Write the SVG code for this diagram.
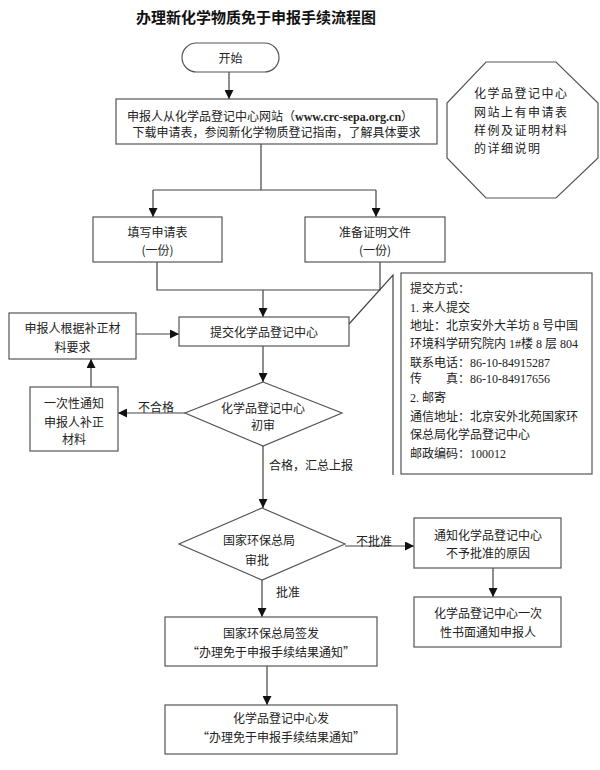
<svg xmlns="http://www.w3.org/2000/svg" width="600" height="770" viewBox="0 0 600 770">
<defs>
<marker id="ah" viewBox="0 0 10 10" refX="10" refY="5" markerUnits="userSpaceOnUse" markerWidth="10" markerHeight="9" orient="auto">
<path d="M0,0 L10,5 L0,10 z" fill="#111"/>
</marker>
<style>
.box{fill:#fff;stroke:#555;stroke-width:1.2}
.ln{fill:none;stroke:#444;stroke-width:1.2}
.ar{fill:none;stroke:#444;stroke-width:1.2;marker-end:url(#ah)}
text{font-family:"Noto Sans CJK SC","Liberation Sans",sans-serif;font-size:12px;fill:#222}
.c{text-anchor:middle}
.t{font-size:15px;font-weight:bold;fill:#111}
.s{font-family:"Liberation Serif","Noto Sans CJK SC",serif}
.oct{letter-spacing:1.5px}
</style>
</defs>
<rect width="600" height="770" fill="#fff"/>
<text class="t c" x="256" y="23">办理新化学物质免于申报手续流程图</text>

<g id="connectors">
<path class="ar" d="M229,72 V99"/>
<path class="ln" d="M261,144 V190 M153,190 H376"/>
<path class="ar" d="M153,190 V217"/>
<path class="ar" d="M376,190 V217"/>
<path class="ln" d="M157,262 V290 H380 V262"/>
<path class="ar" d="M263,290 V317"/>
<path class="ar" d="M136,334 H179"/>
<path class="ar" d="M263,346 V382"/>
<path class="ar" d="M185,413 H118"/>
<path class="ar" d="M91,387 V359"/>
<path class="ar" d="M263,446 V508"/>
<path class="ar" d="M345,546 H414"/>
<path class="ar" d="M493,568 V597"/>
<path class="ar" d="M262,580 V617"/>
<path class="ar" d="M267,666 V705"/>
<path class="ln" d="M349,324 L393,275 V475"/>
</g>

<g id="start">
<rect class="box" x="182" y="43" width="97" height="29" rx="14.5"/>
<text class="c" x="230.5" y="62.5">开始</text>
</g>

<g id="download">
<rect class="box" x="116" y="99" width="321" height="45"/>
<text x="127" y="120.5">申报人从化学品登记中心网站（<tspan class="s" font-weight="bold">www.crc-sepa.org.cn</tspan>）</text>
<text class="c" x="276.5" y="136.5">下载申请表，参阅新化学物质登记指南，了解具体要求</text>
</g>

<g id="note-octagon">
<polygon class="box" points="486,62 556,62 598,103 598,158 556,198 486,198 447,158 447,103"/>
<text class="oct" x="474" y="97.5">化学品登记中心</text>
<text class="oct" x="474" y="116.5">网站上有申请表</text>
<text class="oct" x="474" y="134.5">样例及证明材料</text>
<text class="oct" x="474" y="152.5">的详细说明</text>
</g>

<g id="fill-form">
<rect class="box" x="93" y="217" width="129" height="45"/>
<text class="c" x="157.5" y="236.5">填写申请表</text>
<text class="c" x="157.5" y="254.5">(一份)</text>
</g>

<g id="prepare-docs">
<rect class="box" x="305" y="217" width="140" height="45"/>
<text class="c" x="375" y="236.5">准备证明文件</text>
<text class="c" x="375" y="254.5">(一份)</text>
</g>

<g id="submit">
<rect class="box" x="179" y="317" width="170" height="29"/>
<text class="c" x="264" y="336.5">提交化学品登记中心</text>
</g>

<g id="supplement">
<rect class="box" x="9" y="313" width="127" height="46"/>
<text class="c" x="72.5" y="332.5">申报人根据补正材</text>
<text class="c" x="72.5" y="351.5">料要求</text>
</g>

<g id="submit-info">
<rect class="box" x="401" y="273" width="191" height="201"/>
<text x="410" y="292.5">提交方式：</text>
<text x="410" y="311.5"><tspan class="s">1. </tspan>来人提交</text>
<text x="410" y="329.5">地址：北京安外大羊坊<tspan class="s"> 8 </tspan>号中国</text>
<text x="410" y="347.5">环境科学研究院内<tspan class="s"> 1#</tspan>楼<tspan class="s"> 8 </tspan>层<tspan class="s"> 804</tspan></text>
<text x="410" y="366.5">联系电话：<tspan class="s">86-10-84915287</tspan></text>
<text x="410" y="382.5">传　　真：<tspan class="s">86-10-84917656</tspan></text>
<text x="410" y="401.5"><tspan class="s">2. </tspan>邮寄</text>
<text x="410" y="420.5">通信地址：北京安外北苑国家环</text>
<text x="410" y="438.5">保总局化学品登记中心</text>
<text x="410" y="457.5">邮政编码：<tspan class="s">100012</tspan></text>
</g>

<g id="review">
<polygon class="box" points="263,382 342,413 263,446 185,413"/>
<text class="c" x="263" y="412.5">化学品登记中心</text>
<text class="c" x="263" y="429.5">初审</text>
</g>

<g id="notify-supplement">
<rect class="box" x="30" y="387" width="88" height="64"/>
<text class="c" x="74" y="407.5">一次性通知</text>
<text class="c" x="74" y="426.5">申报人补正</text>
<text class="c" x="74" y="443.5">材料</text>
</g>

<text x="138" y="411.5">不合格</text>
<text x="269" y="469.5">合格，汇总上报</text>

<g id="approve">
<polygon class="box" points="262,508 345,544 262,580 179,544"/>
<text class="c" x="259" y="544.5">国家环保总局</text>
<text class="c" x="257" y="564.5">审批</text>
</g>

<text x="356" y="546">不批准</text>
<text x="276" y="596.5">批准</text>

<g id="reject-reason">
<rect class="box" x="414" y="518" width="147" height="50"/>
<text class="c" x="488" y="539.5">通知化学品登记中心</text>
<text class="c" x="488" y="557.5">不予批准的原因</text>
</g>

<g id="reject-notify">
<rect class="box" x="414" y="597" width="147" height="50"/>
<text class="c" x="488" y="617.5">化学品登记中心一次</text>
<text class="c" x="488" y="636.5">性书面通知申报人</text>
</g>

<g id="issue">
<rect class="box" x="165" y="617" width="212" height="49"/>
<text class="c" x="271" y="637.5">国家环保总局签发</text>
<text class="c" x="271" y="656.5">“办理免于申报手续结果通知”</text>
</g>

<g id="send">
<rect class="box" x="165" y="705" width="232" height="49"/>
<text class="c" x="281" y="722.5">化学品登记中心发</text>
<text class="c" x="281" y="741.5">“办理免于申报手续结果通知”</text>
</g>
</svg>
